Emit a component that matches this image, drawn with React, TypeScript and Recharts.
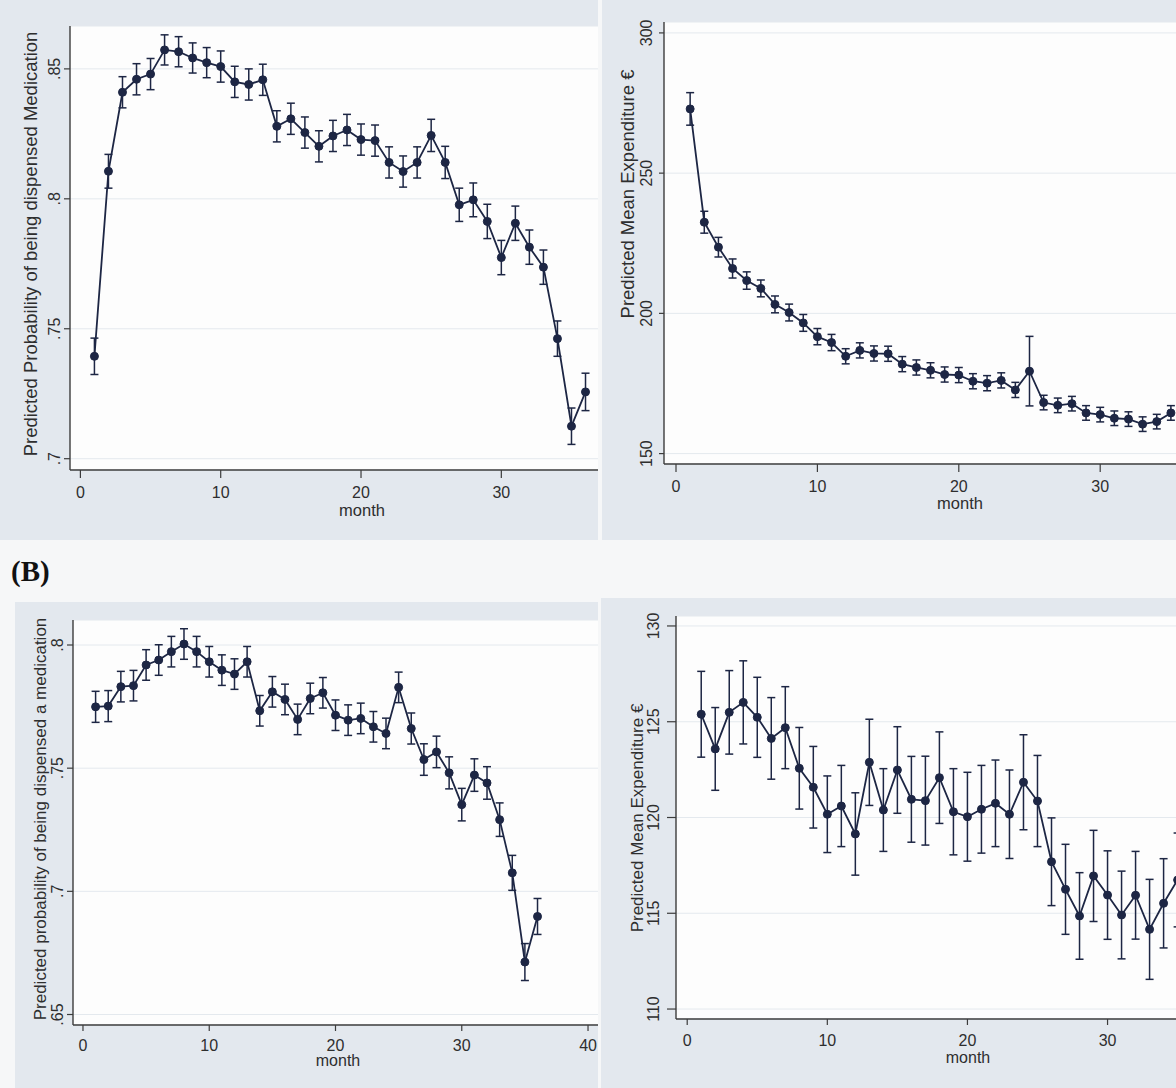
import { LineChart, Line, XAxis, YAxis, CartesianGrid, ErrorBar } from "recharts";

const months = [
  1, 2, 3, 4, 5, 6, 7, 8, 9, 10, 11, 12, 13, 14, 15, 16, 17, 18,
  19, 20, 21, 22, 23, 24, 25, 26, 27, 28, 29, 30, 31, 32, 33, 34, 35, 36,
];

// (A) left: probability of being dispensed medication
const probA = [
  0.7394, 0.8106, 0.841, 0.846, 0.848, 0.8573, 0.8566, 0.8542, 0.8524, 0.8509,
  0.845, 0.844, 0.8458, 0.8279, 0.8308, 0.8255, 0.8202, 0.8242, 0.8265, 0.8228,
  0.8224, 0.814, 0.8105, 0.814, 0.8244, 0.814, 0.7977, 0.7996, 0.7913, 0.7774,
  0.7906, 0.7814, 0.7737, 0.7462, 0.7125, 0.7257,
];
const probACi = [
  0.007, 0.0065, 0.006, 0.006, 0.006, 0.0058, 0.0058, 0.0058, 0.0058, 0.006,
  0.006, 0.006, 0.006, 0.006, 0.006, 0.006, 0.006, 0.006, 0.006, 0.006,
  0.006, 0.006, 0.006, 0.006, 0.0062, 0.0062, 0.0064, 0.0065, 0.0066, 0.0066,
  0.0066, 0.0066, 0.0066, 0.0068, 0.007, 0.0072,
];

// (A) right: mean expenditure (cut off after month 35)
const spendA = [
  272.9, 232.5, 223.6, 216.0, 211.7, 208.9, 203.2, 200.3, 196.6, 191.7,
  189.6, 184.7, 186.8, 185.7, 185.6, 181.9, 180.7, 179.7, 178.2, 178.0,
  175.8, 175.1, 176.1, 172.7, 179.4, 168.2, 167.2, 167.8, 164.5, 163.9,
  162.6, 162.3, 160.5, 161.4, 164.5,
];
const spendACi = [
  5.8, 3.9, 3.5, 3.4, 3.1, 3.0, 3.0, 3.0, 3.0, 2.9,
  2.9, 2.7, 2.7, 2.7, 2.7, 2.7, 2.7, 2.7, 2.7, 2.7,
  2.7, 2.7, 2.7, 2.7, 12.4, 2.6, 2.6, 2.6, 2.6, 2.6,
  2.6, 2.6, 2.6, 2.6, 2.6,
];

// (B) left
const probB = [
  0.7749, 0.7752, 0.7831, 0.7835, 0.7919, 0.7939, 0.7973, 0.8004, 0.7973, 0.7932,
  0.7898, 0.7882, 0.7932, 0.7733, 0.781, 0.7779, 0.7698, 0.7783, 0.7806, 0.7715,
  0.7695, 0.7702, 0.7668, 0.7641, 0.7828, 0.7661, 0.7535, 0.7566, 0.7481, 0.7352,
  0.7472, 0.744, 0.7291, 0.7075, 0.6713, 0.6898,
];
const probBCi = [
  0.0063, 0.0063, 0.0062, 0.0062, 0.0062, 0.0062, 0.0062, 0.0062, 0.0062, 0.0062,
  0.0062, 0.0062, 0.0062, 0.0062, 0.0062, 0.0062, 0.0062, 0.0062, 0.0062, 0.0062,
  0.0062, 0.0062, 0.0062, 0.0062, 0.0062, 0.0063, 0.0064, 0.0064, 0.0065, 0.0066,
  0.0066, 0.0066, 0.0068, 0.0071, 0.0075, 0.0073,
];

// (B) right
const spendB = [
  125.39, 123.58, 125.49, 126.01, 125.23, 124.13, 124.69, 122.57, 121.58, 120.17,
  120.6, 119.14, 122.88, 120.39, 122.48, 120.95, 120.88, 122.08, 120.3, 120.04,
  120.43, 120.74, 120.17, 121.84, 120.86, 117.69, 116.25, 114.86, 116.95, 115.95,
  114.91, 115.94, 114.16, 115.52, 116.74,
];
const spendBCi = [
  2.24, 2.16, 2.18, 2.17, 2.09, 2.13, 2.14, 2.13, 2.13, 2.0,
  2.12, 2.15, 2.25, 2.16, 2.26, 2.24, 2.32, 2.39, 2.25, 2.32,
  2.29, 2.26, 2.31, 2.48, 2.38, 2.29, 2.35, 2.26, 2.38, 2.31,
  2.29, 2.29, 2.61, 2.33, 2.45,
];

const monthTicks = [0, 10, 20, 30];
const monthTicksB = [0, 10, 20, 30, 40];
const probATicks = [0.7, 0.75, 0.8, 0.85];
const spendATicks = [150, 200, 250, 300];
const probBTicks = [0.65, 0.7, 0.75, 0.8];
const spendBTicks = [110, 115, 120, 125, 130];

const NAVY = "#1d2644";
const INK = "#2e2e2e";
const AXIS = "#3c3c3c";
const OUTER = "#e3e8ee";
const PAPER = "#f6f7f8";
const FONT = '"Liberation Sans", Arial, sans-serif';

const dropZero = (v: number) => String(v).replace(/^0/, "");
const plain = (v: number) => String(v);

type PanelProps = {
  box: { left: number; top: number; width: number; height: number };
  chartWidth: number;
  values: number[];
  ci: number[];
  xDomain: [number, number];
  xTicks: number[];
  yDomain: [number, number];
  yTicks: number[];
  yWidth: number;
  xHeight: number;
  marginTop: number;
  yTickLen: number;
  yTickGap: number;
  xTickLen: number;
  xTickGap: number;
  fmt: (v: number) => string;
  yTitle: string;
  yTitleAt: [number, number];
  monthAt: [number, number];
  titleSize: number;
  monthSize: number;
};

const Panel = (p: PanelProps) => {
  const data = p.values.map((v, i) => ({ month: months[i], v, ci: p.ci[i] }));
  const h = p.box.height;

  const yTick = (t: any) => {
    const bx = t.x - (p.yTickGap - p.yTickLen);
    return (
      <text
        x={bx}
        y={t.y}
        transform={`rotate(-90 ${bx} ${t.y})`}
        textAnchor="middle"
        fontSize={16}
        fontFamily={FONT}
        fill={INK}
      >
        {p.fmt(t.payload.value)}
      </text>
    );
  };

  const xTick = (t: any) => (
    <text
      x={t.x}
      y={t.y}
      dy="0.71em"
      textAnchor="middle"
      fontSize={16}
      fontFamily={FONT}
      fill={INK}
    >
      {t.payload.value}
    </text>
  );

  const [tx, ty] = p.yTitleAt;

  return (
    <div
      style={{
        position: "absolute",
        left: p.box.left,
        top: p.box.top,
        width: p.box.width,
        height: h,
        overflow: "hidden",
        background: OUTER,
      }}
    >
      <LineChart
        width={p.chartWidth}
        height={h}
        data={data}
        margin={{ top: p.marginTop, right: 0, bottom: 0, left: 0 }}
      >
        <CartesianGrid vertical={false} stroke="#e4e9ee" fill="#fdfdfd" />
        <XAxis
          dataKey="month"
          type="number"
          domain={p.xDomain}
          ticks={p.xTicks}
          allowDataOverflow
          height={p.xHeight}
          tickSize={p.xTickLen}
          tickMargin={p.xTickGap - p.xTickLen}
          axisLine={{ stroke: AXIS, strokeWidth: 1.4 }}
          tickLine={{ stroke: AXIS, strokeWidth: 1.2 }}
          tick={xTick}
        />
        <YAxis
          type="number"
          domain={p.yDomain}
          ticks={p.yTicks}
          allowDataOverflow
          width={p.yWidth}
          tickSize={p.yTickLen}
          tickMargin={0}
          axisLine={{ stroke: AXIS, strokeWidth: 1.4 }}
          tickLine={{ stroke: AXIS, strokeWidth: 1.2 }}
          tick={yTick}
        />
        <Line
          type="linear"
          dataKey="v"
          stroke={NAVY}
          strokeWidth={1.8}
          dot={{ r: 4, fill: NAVY, stroke: NAVY, strokeWidth: 1 }}
          isAnimationActive={false}
        >
          <ErrorBar dataKey="ci" direction="y" width={4} stroke={NAVY} strokeWidth={1.5} />
        </Line>
      </LineChart>
      <svg
        width={p.chartWidth}
        height={h}
        style={{ position: "absolute", left: 0, top: 0, pointerEvents: "none" }}
      >
        <text
          x={tx}
          y={ty}
          transform={`rotate(-90 ${tx} ${ty})`}
          textAnchor="middle"
          fontSize={p.titleSize}
          fontFamily={FONT}
          fill={INK}
        >
          {p.yTitle}
        </text>
        <text
          x={p.monthAt[0]}
          y={p.monthAt[1]}
          textAnchor="middle"
          fontSize={p.monthSize}
          fontFamily={FONT}
          fill={INK}
        >
          month
        </text>
      </svg>
    </div>
  );
};

export default function App() {
  return (
    <div
      style={{
        position: "absolute",
        left: 0,
        top: 0,
        width: 1176,
        height: 1088,
        overflow: "hidden",
        background: PAPER,
      }}
    >
      <Panel
        box={{ left: 0, top: 0, width: 598, height: 540 }}
        chartWidth={598}
        values={probA}
        ci={probACi}
        xDomain={[-0.741, 36.89]}
        xTicks={monthTicks}
        yDomain={[0.69565, 0.8665]}
        yTicks={probATicks}
        yWidth={70}
        xHeight={70}
        marginTop={26}
        yTickLen={6}
        yTickGap={10}
        xTickLen={8}
        xTickGap={17}
        fmt={dropZero}
        yTitle="Predicted Probability of being dispensed Medication"
        yTitleAt={[37, 244]}
        monthAt={[362, 516]}
        titleSize={18.5}
        monthSize={16.5}
      />
      <Panel
        box={{ left: 602, top: 0, width: 574, height: 540 }}
        chartWidth={600}
        values={spendA}
        ci={spendACi}
        xDomain={[-0.849, 37.2]}
        xTicks={monthTicks}
        yDomain={[146.29, 303.89]}
        yTicks={spendATicks}
        yWidth={62}
        xHeight={76}
        marginTop={22}
        yTickLen={5}
        yTickGap={12}
        xTickLen={8}
        xTickGap={17}
        fmt={plain}
        yTitle="Predicted Mean Expenditure €"
        yTitleAt={[32, 194]}
        monthAt={[358, 509]}
        titleSize={18.5}
        monthSize={16.5}
      />
      <svg
        width={80}
        height={50}
        style={{ position: "absolute", left: 0, top: 548 }}
      >
        <text
          x={11}
          y={33}
          fontSize={29}
          fontWeight="bold"
          fontFamily='"Liberation Serif", "Times New Roman", serif'
          fill="#111"
        >
          (B)
        </text>
      </svg>
      <Panel
        box={{ left: 15, top: 602, width: 583, height: 486 }}
        chartWidth={583}
        values={probB}
        ci={probBCi}
        xDomain={[-0.79, 40.79]}
        xTicks={monthTicksB}
        yDomain={[0.64574, 0.81015]}
        yTicks={probBTicks}
        yWidth={58}
        xHeight={63}
        marginTop={18}
        yTickLen={6}
        yTickGap={10}
        xTickLen={6}
        xTickGap={14.5}
        fmt={dropZero}
        yTitle="Predicted probability of being dispensed a medication"
        yTitleAt={[31, 217]}
        monthAt={[323, 464]}
        titleSize={17}
        monthSize={16}
      />
      <Panel
        box={{ left: 601, top: 598, width: 575, height: 490 }}
        chartWidth={600}
        values={spendB}
        ci={spendBCi}
        xDomain={[-0.8, 36.67]}
        xTicks={monthTicks}
        yDomain={[109.48, 130.52]}
        yTicks={spendBTicks}
        yWidth={75}
        xHeight={69}
        marginTop={18}
        yTickLen={9}
        yTickGap={17}
        xTickLen={6}
        xTickGap={16}
        fmt={plain}
        yTitle="Predicted Mean Expenditure €"
        yTitleAt={[42, 220]}
        monthAt={[367, 465]}
        titleSize={17}
        monthSize={16}
      />
    </div>
  );
}
